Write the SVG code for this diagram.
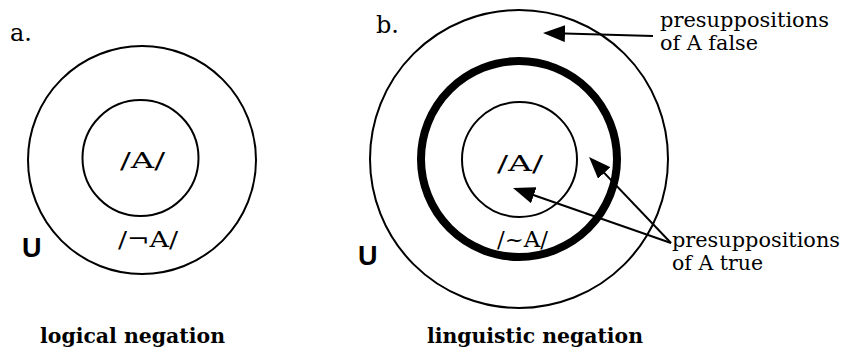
<svg xmlns="http://www.w3.org/2000/svg" width="845" height="352" viewBox="0 0 845 352">
<style>
.ring{fill:none;stroke:#000;stroke-width:2}
.thick{fill:none;stroke:#000;stroke-width:8}
.t{font-family:"DejaVu Serif","Liberation Serif",serif;font-size:22px;fill:#000}
.lbl{font-size:21px}
.b{font-family:"DejaVu Serif","Liberation Serif",serif;font-size:21px;font-weight:bold;fill:#000}
.u{font-family:"Liberation Sans",Arial,sans-serif;font-size:27px;font-weight:bold;fill:#000}
.arr{stroke:#000;stroke-width:2;fill:none;marker-end:url(#ah)}
</style>
<defs>
<marker id="ah" viewBox="0 0 22 17" refX="18" refY="8.5" markerWidth="22" markerHeight="17" markerUnits="userSpaceOnUse" orient="auto">
<path d="M0,0 L22,8.5 L0,17 Z" fill="#000"/>
</marker>
</defs>
<rect width="845" height="352" fill="#fff"/>
<g id="panel-a">
<text class="t" x="10" y="41" style="font-size:24px">a.</text>
<g id="a-universe">
<circle class="ring" cx="142" cy="160" r="114"/>
<text class="u" x="22" y="257">U</text>
<text class="t" x="148" y="247" text-anchor="middle" textLength="60" lengthAdjust="spacingAndGlyphs">/¬A/</text>
</g>
<g id="a-set">
<circle class="ring" cx="140.5" cy="158" r="58"/>
<text class="t" x="142.5" y="168" text-anchor="middle" textLength="45" lengthAdjust="spacingAndGlyphs">/A/</text>
</g>
<text class="b" x="40" y="343" textLength="185" lengthAdjust="spacingAndGlyphs">logical negation</text>
</g>
<g id="panel-b">
<text class="t" x="376" y="33" style="font-size:24px">b.</text>
<g id="b-universe">
<circle class="ring" cx="519" cy="159" r="149"/>
<text class="u" x="358" y="265">U</text>
</g>
<g id="b-presup-true">
<circle class="thick" cx="519" cy="159" r="98"/>
<text class="t" x="522.5" y="247" text-anchor="middle" textLength="51" lengthAdjust="spacingAndGlyphs">/~A/</text>
</g>
<g id="b-set">
<circle class="ring" cx="519.5" cy="159.5" r="57.5"/>
<text class="t" x="520" y="171" text-anchor="middle" textLength="46" lengthAdjust="spacingAndGlyphs">/A/</text>
</g>
<text class="b" x="427" y="343" textLength="216" lengthAdjust="spacingAndGlyphs">linguistic negation</text>
</g>
<g id="label-false">
<text class="t lbl"><tspan x="660" y="27" textLength="169" lengthAdjust="spacingAndGlyphs">presuppositions</tspan><tspan x="660" y="50" textLength="98" lengthAdjust="spacingAndGlyphs">of A false</tspan></text>
</g>
<g id="label-true">
<text class="t lbl"><tspan x="672" y="247" textLength="168" lengthAdjust="spacingAndGlyphs">presuppositions</tspan><tspan x="672" y="270" textLength="91" lengthAdjust="spacingAndGlyphs">of A true</tspan></text>
</g>
<g id="connectors">
<line class="arr" x1="653" y1="36" x2="547" y2="33.1"/>
<line class="arr" x1="671" y1="243" x2="591.8" y2="159.9"/>
<line class="arr" x1="671" y1="243" x2="516.8" y2="189.3"/>
</g>
</svg>
